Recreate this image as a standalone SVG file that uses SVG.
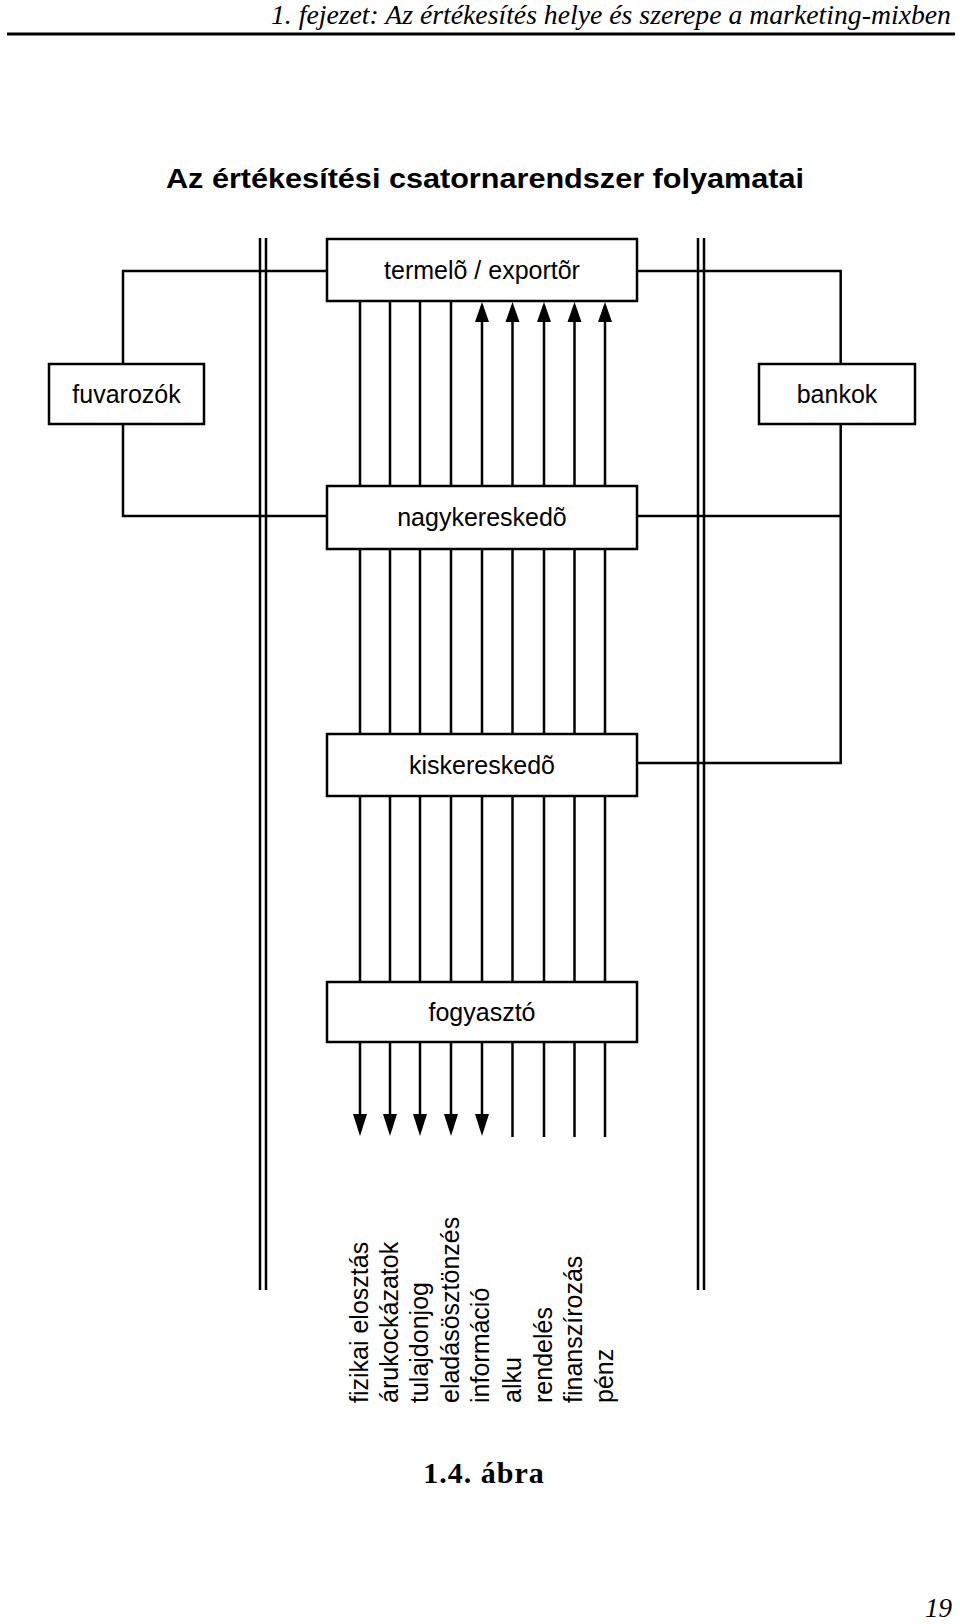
<svg xmlns="http://www.w3.org/2000/svg" width="960" height="1624" viewBox="0 0 960 1624">
<style>
.box{fill:#fff;stroke:#000;stroke-width:2.5}
.ln{fill:none;stroke:#000;stroke-width:2.5}
.lbl{font-family:"Liberation Sans",Arial,sans-serif;font-size:25px;fill:#000;text-anchor:middle}
.rot{font-family:"Liberation Sans",Arial,sans-serif;font-size:25px;fill:#000}
.ah{fill:#000}
</style>
<rect width="960" height="1624" fill="#fff"/>
<text x="951" y="24" text-anchor="end" textLength="680" lengthAdjust="spacingAndGlyphs" font-family="Liberation Serif, serif" font-style="italic" font-size="28">1. fejezet: Az értékesítés helye és szerepe a marketing-mixben</text>
<line x1="7" y1="34" x2="955" y2="34" stroke="#000" stroke-width="3"/>
<text x="485" y="188" text-anchor="middle" textLength="638" lengthAdjust="spacingAndGlyphs" font-family="Liberation Sans, Arial, sans-serif" font-weight="bold" font-size="27">Az értékesítési csatornarendszer folyamatai</text>
<g id="connectors">
<path class="ln" d="M260,238V1290M266,238V1290M698,238V1290M704,238V1290"/>
<path class="ln" d="M327,271H123V364M123,424V516H327"/>
<path class="ln" d="M637,271H840.7V364M840.7,424V763H637M637,516H840.7"/>
<path class="ln" d="M360,301V486M390,301V486M420,301V486M451,301V486M482,306V486M512.5,306V486M544,306V486M574.5,306V486M605,306V486"/>
<path class="ln" d="M360,549V734M390,549V734M420,549V734M451,549V734M482,549V734M512.5,549V734M544,549V734M574.5,549V734M605,549V734"/>
<path class="ln" d="M360,796V982M390,796V982M420,796V982M451,796V982M482,796V982M512.5,796V982M544,796V982M574.5,796V982M605,796V982"/>
<path class="ln" d="M360,1042V1130M390,1042V1130M420,1042V1130M451,1042V1130M482,1042V1130M512.5,1042V1137M544,1042V1137M574.5,1042V1137M605,1042V1137"/>
<polygon class="ah" points="482,302 475,322 489,322"/>
<polygon class="ah" points="512.5,302 505.5,322 519.5,322"/>
<polygon class="ah" points="544,302 537,322 551,322"/>
<polygon class="ah" points="574.5,302 567.5,322 581.5,322"/>
<polygon class="ah" points="605,302 598,322 612,322"/>
<polygon class="ah" points="360,1136 353,1114 367,1114"/>
<polygon class="ah" points="390,1136 383,1114 397,1114"/>
<polygon class="ah" points="420,1136 413,1114 427,1114"/>
<polygon class="ah" points="451,1136 444,1114 458,1114"/>
<polygon class="ah" points="482,1136 475,1114 489,1114"/>
</g>
<g id="termelo"><rect class="box" x="327" y="239" width="310" height="62"/><text class="lbl" x="482" y="279">termelõ / exportõr</text></g>
<g id="fuvarozok"><rect class="box" x="49" y="364" width="155" height="60"/><text class="lbl" x="126.5" y="403">fuvarozók</text></g>
<g id="bankok"><rect class="box" x="759" y="364" width="156" height="60"/><text class="lbl" x="837" y="403">bankok</text></g>
<g id="nagykereskedo"><rect class="box" x="327" y="486" width="310" height="63"/><text class="lbl" x="482" y="526">nagykereskedõ</text></g>
<g id="kiskereskedo"><rect class="box" x="327" y="734" width="310" height="62"/><text class="lbl" x="482" y="774">kiskereskedõ</text></g>
<g id="fogyaszto"><rect class="box" x="327" y="982" width="310" height="60"/><text class="lbl" x="482" y="1021">fogyasztó</text></g>
<g id="labels">
<text class="rot" transform="translate(368,1403) rotate(-90)">fizikai elosztás</text>
<text class="rot" transform="translate(398,1403) rotate(-90)">árukockázatok</text>
<text class="rot" transform="translate(428,1403) rotate(-90)">tulajdonjog</text>
<text class="rot" transform="translate(459,1403) rotate(-90)">eladásösztönzés</text>
<text class="rot" transform="translate(489,1403) rotate(-90)">információ</text>
<text class="rot" transform="translate(521,1403) rotate(-90)">alku</text>
<text class="rot" transform="translate(552,1403) rotate(-90)">rendelés</text>
<text class="rot" transform="translate(582,1403) rotate(-90)">finanszírozás</text>
<text class="rot" transform="translate(613,1403) rotate(-90)">pénz</text>
</g>
<text x="484" y="1483" text-anchor="middle" font-family="Liberation Serif, serif" font-weight="bold" font-size="30" letter-spacing="1">1.4. ábra</text>
<text x="952" y="1617" text-anchor="end" font-family="Liberation Serif, serif" font-style="italic" font-size="27">19</text>
</svg>
